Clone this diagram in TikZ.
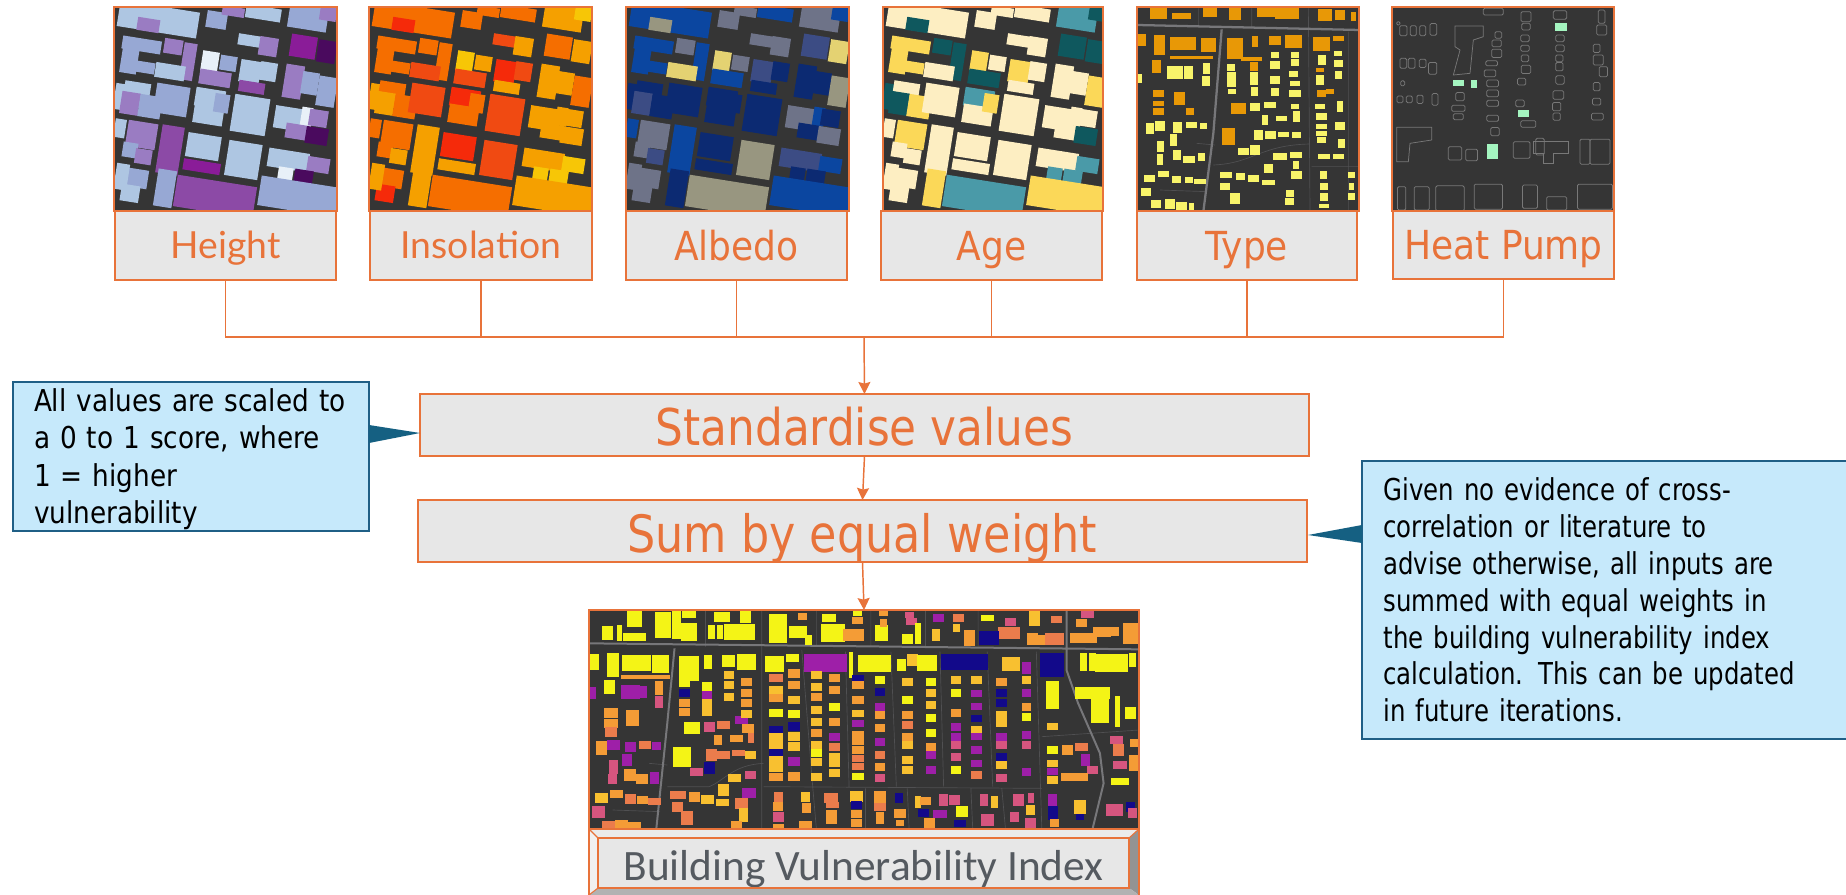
\documentclass[tikz,border=0pt]{standalone}
\usepackage{fontspec}
\setmainfont{DejaVu Sans Condensed}
\newfontfamily\tah{DejaVu Sans Condensed}
\newfontfamily\tahn[FakeStretch=0.96]{DejaVu Sans Condensed}
\newfontfamily\tahl[FakeStretch=0.97]{DejaVu Sans Condensed}
\newfontfamily\tahr[FakeStretch=0.90]{DejaVu Sans Condensed}
\newfontfamily\gro{Lato}
\newfontfamily\bli{Carlito}
\definecolor{orng}{HTML}{E8733A}
\definecolor{boxg}{HTML}{E7E7E7}
\definecolor{notef}{HTML}{C6E9FB}
\definecolor{noted}{HTML}{1F5F86}
\definecolor{ptr}{HTML}{156082}
\definecolor{dark}{HTML}{353535}
\definecolor{rdc}{HTML}{77777A}
\definecolor{thn}{HTML}{505052}
% height
\definecolor{chl}{HTML}{AEC6E2}\definecolor{chm}{HTML}{97A8D4}\definecolor{chp}{HTML}{9A7CC2}\definecolor{chd}{HTML}{8C4AA6}
\definecolor{chg}{HTML}{8A1C98}\definecolor{chD}{HTML}{4A0A5E}\definecolor{chw}{HTML}{E8F0F8}
% insolation
\definecolor{cir}{HTML}{F52A0A}\definecolor{cie}{HTML}{F04A12}\definecolor{cio}{HTML}{F56E00}\definecolor{cia}{HTML}{F5A000}\definecolor{ciy}{HTML}{F7C606}
% albedo
\definecolor{can}{HTML}{0C2A72}\definecolor{cab}{HTML}{0B46A0}\definecolor{cag}{HTML}{6E7388}\definecolor{cat}{HTML}{989680}\definecolor{cay}{HTML}{E4D272}\definecolor{cai}{HTML}{3C4C84}
% age
\definecolor{cgc}{HTML}{FDEEC2}\definecolor{cgy}{HTML}{FBD858}\definecolor{cgt}{HTML}{0F585E}\definecolor{cgb}{HTML}{4A9AA8}
% type
\definecolor{cty}{HTML}{F8F46A}\definecolor{cto}{HTML}{E89806}
% heat
\definecolor{hpg}{HTML}{A4F5C0}\definecolor{hpo}{HTML}{787878}
% index
\definecolor{vY}{HTML}{F4F416}\definecolor{vA}{HTML}{F8C030}\definecolor{vO}{HTML}{F49C36}\definecolor{vS}{HTML}{EB7C4C}\definecolor{vP}{HTML}{D6557F}\definecolor{vM}{HTML}{9E1FA8}\definecolor{vN}{HTML}{12098A}

\usetikzlibrary{arrows.meta}
\tikzset{
 x=0.75pt,y=-0.75pt,
 base/.style={inner sep=0pt,outer sep=0pt,rectangle},
 labelbox/.style={base,draw=orng,fill=boxg,line width=1.2pt,text=orng,text depth=0pt},
 grolabel/.style={labelbox,text height=18.8pt,font=\gro\fontsize{28}{28}\selectfont},
 tahlabel/.style={labelbox,text height=21.8pt,font=\tah\fontsize{30}{30}\selectfont},
 stepbox/.style={labelbox,font=\tahn\fontsize{38}{38}\selectfont},
 maptile/.style={base,fill=dark},
 notebox/.style={base,draw=noted,fill=notef,line width=1.1pt,text=black,align=left},
 wire/.style={draw=orng,line width=1pt},
 feed/.style={draw=orng,line width=1.1pt,-{Stealth[length=9pt,width=9pt,inset=1.2pt]}},
 pointer/.style={fill=ptr},
 frameline/.style={draw=orng,line width=1.3pt}
}
% box by its px corners
\newcommand\pxbox[7]{\node[#6,minimum width={(#4-#2)*0.75pt},minimum height={(#5-#3)*0.75pt}] (#1) at ({(#2+#4)/2},{(#3+#5)/2}) {#7};}
\def\bs{1}
\newcommand\rb[5]{\fill[#5] ({#1-\bs*#3/2},{#2-\bs*#4/2}) rectangle ({#1+\bs*#3/2},{#2+\bs*#4/2});}
\newcommand\ob[4]{\draw[hpo,line width=0.55pt,rounded corners=1pt] ({#1-#3/2},{#2-#4/2}) rectangle ({#1+#3/2},{#2+#4/2});}
\newcommand\colm[4]{\foreach \yy/\cc in {#4}{\rb{#1}{\yy}{#2}{#3}{v\cc}}}

\def\citylist{%
175/58/215/70/chl/cio/cab/cgc,145/75/60/35/chp/cir/cat/cgt,350/60/55/45/chm/cio/cag/cgc,400/35/60/25/chp/cio/cag/cgc,490/40/95/35/chl/cio/cab/cgc,%
625/50/105/70/chm/cia/cag/cgb,685/40/45/40/chp/ciy/cab/cgt,125/135/105/35/chm/cio/cab/cgy,90/170/45/90/chm/cio/cab/cgy,120/200/80/30/chm/cio/cab/cgy,%
220/140/50/40/chp/cio/cag/cgt,265/185/35/100/chp/cio/cab/cgt,210/215/80/40/chl/cie/cay/cgc,330/185/45/55/chw/ciy/cay/cgy,385/190/45/40/chm/cia/cag/cgc,%
345/235/85/40/chp/cie/cab/cgt,470/125/100/30/chl/cie/cag/cgc,505/140/50/50/chp/cia/cag/cgc,610/140/70/60/chg/cio/cai/cgt,680/155/50/60/chD/cia/cay/cgt,%
450/215/55/60/chl/cir/cai/cgy,505/215/45/50/chl/cie/can/cgc,455/262/70/30/chd/cia/can/cgc,580/245/50/90/chp/cia/can/cgc,630/250/45/60/chm/cia/can/cgc,680/275/50/80/chm/cio/cat/cgy,%
60/290/30/70/chl/cia/can/cgt,110/280/70/60/chl/cio/can/cgc,90/310/50/60/chp/cia/cai/cgt,150/320/60/60/chm/cio/can/cgy,215/300/90/80/chm/cie/can/cgc,%
330/295/80/50/chl/cir/can/cgb,325/345/80/50/chl/cio/can/cgc,365/310/40/50/chm/cio/can/cgy,450/345/95/100/chl/cie/can/cgc,%
565/355/75/60/chl/cia/cag/cgc,620/350/30/50/chw/cia/cab/cgc,655/355/50/45/chp/cia/can/cgc,590/395/60/40/chp/cia/can/cgc,650/408/60/45/chD/cia/cag/cgt,%
210/450/60/130/chd/cia/cab/cgc,125/405/80/70/chp/cio/cag/cgy,60/385/30/50/chl/cio/cab/cgc,90/450/40/40/chm/cio/cag/cgc,130/470/45/40/chp/cia/cai/cgc,%
310/440/90/65/chl/cir/can/cgc,305/500/100/30/chg/cia/can/cgc,430/480/90/95/chl/cie/cat/cgc,345/590/215/85/chd/cio/cat/cgb,195/565/50/100/chm/cia/can/cgy,%
110/535/60/50/chm/cio/cag/cgc,90/580/50/45/chl/cir/cag/cgc,65/530/35/70/chl/cia/cag/cgc,565/480/110/50/chl/cia/cai/cgc,655/495/60/40/chp/ciy/cab/cgb,%
555/530/40/50/chw/ciy/can/cgb,610/535/50/45/chD/ciy/can/cgb,600/590/220/80/chm/cia/cab/cgy%
}
\newcommand\citytile[1]{%
 \foreach \X/\Y/\W/\H/\Ca/\Cb/\Cc/\Cd in \citylist {%
  \ifcase#1\let\CC\Ca\or\let\CC\Cb\or\let\CC\Cc\or\let\CC\Cd\fi
  \fill[\CC,shift={(\X,\Y)},rotate=-9] ({-\W*0.56},{-\H*0.56}) rectangle ({\W*0.56},{\H*0.56});
 }}
\newcommand\tileclip[4]{\clip (#1,#2) rectangle (#3,#4);}

\begin{document}
\begin{tikzpicture}
\useasboundingbox (0,0) rectangle (1846,895);
\fill[white] (0,0) rectangle (1846,895);

% --- top maps
\pxbox{tH}{114}{7}{337}{211}{maptile}{}
\pxbox{tI}{369}{7}{592}{211}{maptile}{}
\pxbox{tA}{626}{7}{849}{211}{maptile}{}
\pxbox{tG}{883}{7}{1103}{211}{maptile}{}
\pxbox{tT}{1137}{7}{1359}{211}{maptile}{}
\pxbox{tP}{1392}{7}{1614}{211}{maptile}{}
\pxbox{tV}{589}{610}{1139}{829}{maptile}{}

\begin{scope}\tileclip{114}{7}{337}{211}\begin{scope}[shift={(100,0)},x=0.25pt,y=-0.25pt]\citytile{0}\end{scope}\end{scope}
\begin{scope}\tileclip{369}{7}{592}{211}\begin{scope}[shift={(355,0)},x=0.25pt,y=-0.25pt]\citytile{1}\end{scope}\end{scope}
\begin{scope}\tileclip{626}{7}{849}{211}\begin{scope}[shift={(612,0)},x=0.25pt,y=-0.25pt]\citytile{2}\end{scope}\end{scope}
\begin{scope}\tileclip{883}{7}{1103}{211}\begin{scope}[shift={(869,0)},x=0.25pt,y=-0.25pt]\citytile{3}\end{scope}\end{scope}

% --- Type map
\begin{scope}\tileclip{1137}{7}{1359}{211}
\begin{scope}[shift={(1120,0)},x=0.25pt,y=-0.25pt]
\def\bs{1.12}
\draw[thn,line width=0.5pt] (235,25)--(235,80) (395,25)--(395,85) (565,25)--(570,630) (685,95)--(685,630) (575,500)--(720,500) (280,495) .. controls (400,490) and (420,435) .. (570,432) (230,430)--(285,435) (120,570)--(260,575);
\draw[rdc,line width=1.7pt] (52,75)--(720,90) (305,88) -- (280,400) -- (250,635);
\foreach \X/\Y/\W/\H in {115/40/45/30,185/48/50/15,270/35/40/30,345/40/30/35,440/35/50/30,500/38/65/32,615/45/40/30,660/45/25/25,700/50/15/25,118/135/30/55,190/130/70/35,265/135/40/40,345/145/45/55,405/125/18/30,465/122/30/25,520/125/45/35,605/132/45/40,655/115/30/15,215/172/115/8,395/176/55/10,402/200/20/25,178/295/28/35,210/335/20/18,355/325/40/30,325/410/35/45,605/280/25/20,630/275/20/15,600/210/20/12,115/280/28/20,115/310/28/15,115/335/28/20,110/200/25/35,65/120/25/30}{\rb{\X}{\Y}{\W}{\H}{cto}}
\foreach \X/\Y/\W/\H in {165/218/45/35,205/218/25/35,260/205/18/30,258/243/20/28,333/203/22/20,335/228/25/22,335/250/25/18,335/275/22/15,403/235/22/35,403/275/20/25,465/165/20/18,465/195/25/22,525/165/22/18,525/188/20/18,520/222/25/15,525/250/25/15,465/240/25/22,465/275/22/22,525/280/30/18,405/320/25/22,450/315/30/15,525/320/20/15,530/350/20/30,485/355/30/15,435/360/18/25,90/385/22/30,120/378/25/25,172/383/25/28,215/375/30/15,250/378/18/18,160/420/20/30,122/440/18/30,170/465/22/25,120/478/18/30,207/478/30/18,245/470/18/22,415/405/25/25,452/405/30/22,490/403/30/12,530/405/25/15,370/455/30/20,405/450/25/25,480/470/35/18,445/505/25/25,528/465/30/15,528/495/18/20,530/525/30/20,318/525/30/18,362/530/25/20,400/535/30/18,445/548/35/15,315/560/25/20,345/595/25/30,510/580/22/18,508/605/25/18,130/522/30/15,170/538/25/20,208/540/22/15,240/545/30/12,88/535/30/18,78/575/25/22,108/612/28/22,150/612/25/25,185/618/30/20,215/620/15/18,605/180/22/25,655/160/22/15,655/190/25/20,600/240/20/25,655/225/20/20,600/320/25/15,660/320/18/30,605/350/30/18,605/380/28/15,660/378/25/22,605/400/28/15,605/420/25/18,665/430/18/25,612/470/30/15,655/470/30/15,610/525/18/20,612/560/20/18,612/590/22/22,695/525/18/15,695/560/15/18,695/590/18/18,612/618/25/12,60/235/12/25}{\rb{\X}{\Y}{\W}{\H}{cty}}
\end{scope}\end{scope}

% --- Heat pump map
\begin{scope}\tileclip{1392}{7}{1614}{211}
\begin{scope}[shift={(1120,0)},x=0.25pt,y=-0.25pt]
\foreach \X/\Y/\W/\H in {850/92/22/30,880/92/18/30,908/92/18/30,940/88/20/35,835/70/10/10,1120/35/60/20,1218/50/30/30,1320/45/40/25,1445/50/20/40,1445/90/30/30,1430/145/20/25,1435/180/30/30,1450/215/25/30,1430/260/20/25,1430/305/25/20,1432/350/35/20,1135/105/20/20,1130/130/28/20,1130/160/30/25,1115/190/35/15,1110/220/35/20,1118/250/35/20,1118/280/35/20,1118/310/35/18,1118/355/35/18,1125/395/25/25,1218/80/25/20,1215/115/25/20,1215/145/25/18,1215/175/22/20,1218/208/28/25,1205/245/25/20,1320/115/25/20,1320/145/25/20,1318/175/22/20,1318/200/22/25,1320/240/25/25,1315/285/32/25,1200/310/25/20,1310/320/25/25,1310/350/22/22,1225/372/45/20,850/190/20/30,875/190/20/30,908/190/20/25,938/205/25/35,848/250/12/15,840/298/18/20,868/298/18/20,900/298/18/25,945/298/18/35,1020/290/25/25,1015/325/40/18,1015/350/30/18,1005/460/40/40,1055/465/35/35,1205/450/50/50,1260/440/25/50,1395/455/30/75,1440/455/60/75,845/595/25/70,905/595/45/70,990/595/85/75,1105/590/85/75,1230/590/45/70,1310/610/60/40,1425/590/105/75}{\ob{\X}{\Y}{\W}{\H}}
\draw[hpo,line width=0.55pt] (1005,78)--(1090,78)--(1090,110)--(1060,120)--(1050,220)--(1000,225)--(1020,150)--(1005,140)--cycle;
\draw[hpo,line width=0.55pt] (830,382)--(935,382)--(935,420)--(870,430)--(865,485)--(830,485)--cycle;
\draw[hpo,line width=0.55pt] (1240,425)--(1345,425)--(1345,460)--(1300,460)--(1300,490)--(1270,490)--(1270,460)--(1240,460)--cycle;
\foreach \X/\Y/\W/\H in {1323/82/35/25,1015/250/35/18,1062/252/16/22,1210/340/32/22,1118/455/33/45}{\rb{\X}{\Y}{\W}{\H}{hpg}}
\end{scope}\end{scope}

% --- Index map
\begin{scope}\tileclip{589}{610}{1139}{829}
\begin{scope}[shift={(580,590)},x=0.2727pt,y=-0.25pt]
\def\bs{1.22}
\draw[thn,line width=0.5pt] (345,60)--(345,170) (500,60)--(500,715) (650,60)--(650,170) (800,60)--(800,170) (950,60)--(950,170) (1095,60)--(1095,170) (610,180)--(640,590)--(650,715) (730,185)--(740,590) (855,185)--(870,590) (990,185)--(1000,590) (1120,185)--(1135,590) (1255,185)--(1270,715) (505,590)--(1270,595) (1270,440)--(1538,420) (785,595)--(785,715) (900,595)--(905,715) (1075,595)--(1080,715) (1160,595)--(1170,715) (240,590)--(355,590) .. controls (400,570) and (420,525) .. (505,520) (90,660)--(220,665) (190,520)--(240,525);
\draw[rdc,line width=1.5pt] (25,160)--(1538,178) (260,175)--(240,400)--(210,715) (1338,60)--(1338,240)--(1370,340)--(1430,490)--(1440,580)--(1410,715);
\foreach \X/\Y/\W/\H/\Cl in {150/85/35/45/Y,75/128/25/35/Y,108/128/12/40/Y,150/140/50/20/Y,228/105/35/65/Y,265/105/20/70/Y,300/125/35/45/Y,300/72/30/18/Y,390/80/35/25/Y,362/125/15/35/Y,385/125/15/35/Y,438/125/70/40/Y,455/80/25/30/Y,545/115/40/70/Y,612/80/20/18/O,600/125/40/30/Y,628/150/15/25/Y,685/85/30/20/Y,695/130/55/45/Y,742/135/30/30/O,770/135/20/30/O,762/92/25/18/O,762/70/20/15/Y,835/70/20/12/O,830/130/30/40/Y,835/100/15/20/O,905/75/20/15/P,912/95/25/18/P,900/148/25/25/Y,930/130/15/50/Y,985/85/25/20/M,980/135/18/30/A,1040/85/25/20/S,1070/145/25/40/O,1035/115/15/20/A,1120/85/30/15/Y,1185/95/25/20/P,1180/130/50/30/S,1125/145/45/35/N,1250/85/25/40/A,1245/148/25/30/O,1272/150/20/25/O,1305/148/45/30/S,1310/88/25/18/S,1380/100/25/20/O,1385/145/60/25/O,1435/125/40/25/O,1470/125/20/22/O,1515/130/35/50/O,1395/72/30/18/P,%
40/215/20/40/Y,90/225/28/60/Y,155/218/65/40/Y,222/222/38/45/Y,180/262/110/10/O,300/235/45/60/Y,352/215/20/35/Y,408/212/30/30/Y,458/215/42/40/Y,535/222/42/40/Y,585/205/30/20/Y,675/218/95/45/M,745/225/10/65/Y,810/220/75/42/Y,885/225/20/30/Y,915/210/25/30/A,955/218/45/40/Y,1058/215/105/40/N,1185/222/40/35/A,1228/235/22/30/M,1298/225/55/60/N,1385/215/15/45/Y,1410/215/15/45/Y,1462/218/75/45/Y,1520/210/15/35/Y,%
1410/310/80/30/Y,1430/350/40/80/Y,1478/365/10/75/Y,1515/370/25/30/Y,1300/315/30/70/Y,1340/480/25/25/O,1380/470/30/20/S,1390/510/20/30/M,1410/540/25/20/P,1360/560/60/20/O,1485/575/40/18/Y,1475/450/30/20/P,1480/480/25/30/S,1485/525/30/20/P,1525/460/20/20/O,1525/520/25/40/O,%
85/370/30/25/O,85/400/30/22/O,85/425/28/25/S,145/385/30/40/O,35/310/15/30/M,80/290/25/35/Y,125/305/22/35/M,150/305/25/35/M,175/305/15/30/M,218/295/18/35/O,218/335/18/30/P,60/475/25/35/O,92/465/28/25/M,138/472/25/25/M,178/465/28/18/S,210/468/20/20/M,92/530/22/35/P,130/510/22/30/M,138/555/28/28/O,90/568/20/25/P,170/568/28/25/O,205/565/22/30/M,60/625/30/25/A,100/612/30/20/O,138/628/25/25/S,172/630/25/22/O,205/635/30/18/S,50/665/30/30/P,80/705/30/20/S,115/705/30/25/O,150/708/30/20/O,%
308/415/35/30/Y,355/410/25/25/P,395/405/30/18/S,430/445/30/18/O,470/440/15/30/S,380/450/18/25/O,445/390/30/20/M,462/415/25/22/O,280/500/40/50/Y,362/495/25/30/S,395/495/30/22/S,435/490/30/15/S,468/495/25/18/A,355/535/25/30/N,320/545/28/20/P,425/565/30/20/A,395/600/25/30/A,468/555/25/20/P,465/610/30/25/M,270/615/35/20/S,315/620/25/25/O,350/628/30/22/A,392/638/30/18/A,445/640/30/28/S,268/650/25/25/S,295/685/28/35/S,450/675/20/35/A,430/705/25/20/O,%
545/620/20/25/S,545/650/22/22/O,545/680/25/25/P,545/710/25/15/O,620/620/20/25/A,622/655/20/25/O,620/705/30/20/O,690/625/30/25/S,692/680/25/35/O,695/645/30/15/S,760/620/28/28/A,760/645/25/20/N,760/672/25/20/O,760/700/25/20/O,825/625/25/35/O,825/650/25/20/S,825/685/20/30/O,878/625/18/25/N,880/670/25/22/O,880/700/20/15/O,930/635/15/30/A,950/632/25/20/O,1000/630/20/30/P,1030/630/25/25/P,945/670/25/20/N,990/672/30/18/M,1050/665/28/28/Y,1045/700/28/18/N,960/700/25/25/O,1112/630/18/28/P,1140/635/15/30/A,1120/690/30/30/P,1205/630/25/30/P,1240/625/15/25/P,1240/660/20/25/A,1195/680/20/25/P,1240/700/25/25/P,1300/630/20/30/M,1300/670/22/35/N,1375/650/25/35/A,1375/680/18/15/N,1305/700/20/20/O,1470/660/40/30/P,1515/650/20/25/N,1520/670/20/25/P}{\rb{\X}{\Y}{\W}{\H}{v\Cl}}
\colm{288}{26}{20}{280/Y,310/N,340/O,365/O}
\colm{350}{22}{22}{290/Y,315/M,340/A,365/A}
\colm{410}{24}{20}{255/A,285/A,320/A}
\colm{458}{26}{20}{275/O,310/O,340/O,372/A}
\colm{540}{32}{20}{265/S,300/A,325/O,370/Y,420/N,440/A,465/A,490/N,510/A,535/A,560/O}
\colm{588}{26}{22}{250/O,285/O,330/A,372/Y,410/N,440/A,470/A,515/M,560/O}
\colm{650}{24}{20}{255/A,290/A,320/O,360/A,395/A,430/O,465/A,490/Y,515/A,560/A}
\colm{700}{24}{20}{265/O,300/O,350/Y,395/O,440/M,470/S,500/A,520/A,550/A}
\colm{765}{26}{18}{265/N,285/O,330/O,370/A,400/M,435/O,455/O,480/O,505/S,530/S,560/Y}
\colm{825}{24}{20}{270/Y,305/N,350/M,375/O,415/O,455/M,495/S,530/O,565/P}
\colm{900}{24}{20}{275/A,330/Y,375/O,405/S,440/O,465/A,510/A,540/A}
\colm{965}{24}{20}{275/Y,310/A,345/A,385/Y,430/Y,470/O,495/M,540/M}
\colm{1035}{22}{20}{270/A,310/Y,370/O,410/M,440/M,465/P,500/P,540/Y}
\colm{1090}{24}{18}{270/A,310/M,350/M,385/N,420/A,440/M,480/M,520/M,555/S}
\colm{1160}{24}{20}{275/O,310/N,340/N,375/A,400/A,440/M,465/P,500/N,525/A,565/P}
\colm{1228}{22}{20}{270/A,310/M,350/O,380/Y,435/M,465/P,545/M}
\colm{1300}{26}{18}{410/A,480/Y,520/A,545/M,570/A}
\end{scope}\end{scope}

% --- map frames
\foreach \n in {tH,tI,tA,tG,tT,tP,tV}{\draw[frameline] (\n.south west) rectangle (\n.north east);}

% --- labels
\pxbox{lH}{115}{211}{336}{280}{grolabel}{Height}
\pxbox{lI}{370}{211}{592}{280}{grolabel}{Insolation}
\pxbox{lA}{626}{211}{847}{280}{tahlabel}{Albedo}
\pxbox{lG}{881}{211}{1102}{280}{tahlabel}{Age}
\pxbox{lT}{1137}{211}{1357}{280}{tahlabel}{Type}
\pxbox{lP}{1393}{211}{1614}{279}{tahlabel}{Heat Pump}

\pxbox{std}{420}{394}{1309}{456}{stepbox,text height=30pt}{Standardise values}
\pxbox{sum}{418}{500}{1307}{562}{stepbox,text height=31.5pt,font=\tahn\fontsize{38.6}{38.6}\selectfont}{Sum by equal weight}

% --- index label with bevel
\coordinate (vo1) at (589,829); \coordinate (vo2) at (1139,829); \coordinate (vo3) at (1139,895); \coordinate (vo4) at (589,895);
\pxbox{lV}{598}{838}{1129}{888}{base,draw=orng,fill=boxg,line width=1.2pt,text={rgb,255:red,85;green,90;blue,96},text depth=0pt,text height=25.5pt,font=\bli\fontsize{32.5}{32.5}\selectfont}{Building Vulnerability Index}
\fill[boxg!85!white] (vo1)--(vo2)--(lV.north east)--(lV.north west)--cycle;
\fill[boxg!60!white] (vo1)--(vo4)--(lV.south west)--(lV.north west)--cycle;
\fill[gray!85] (vo2)--(vo3)--(lV.south east)--(lV.north east)--cycle;
\fill[gray!60] (vo3)--(vo4)--(lV.south west)--(lV.south east)--cycle;
\draw[orng,line width=0.8pt] (vo1)--(lV.north west) (vo2)--(lV.north east) (vo4)--(lV.south west);
\draw[orng,line width=1.2pt] (lV.south west) rectangle (lV.north east);
\draw[frameline] (vo4)--(vo1)--(vo2)--(vo3);

% --- connectors
\coordinate (bus) at (864,337);
\foreach \n in {lH,lI,lA,lG,lT,lP}{\draw[wire] (\n.south) |- (bus);}
\draw[feed] (bus) -- (std.north);
\draw[feed] (std.south) -- (sum.north);
\draw[feed] (sum.south) -- (tV.north);

% --- notes
\pxbox{nL}{13}{382}{369}{531}{notebox,text width=314*0.75pt,font=\tahl\fontsize{22.6}{28}\selectfont}{\mbox{\rule{0pt}{21pt}All values are scaled to}\\\mbox{a 0 to 1 score, where}\\\mbox{1 = higher}\\\mbox{vulnerability}}
\pxbox{nR}{1362}{461}{1850}{739}{notebox,text width=445*0.75pt,font=\tahr\fontsize{22.6}{27.6}\selectfont}{\mbox{Given no evidence of cross-}\\\mbox{correlation or literature to}\\\mbox{advise otherwise, all inputs are}\\\mbox{summed with equal weights in}\\\mbox{the building vulnerability index}\\\mbox{calculation. This can be updated}\\\mbox{in future iterations.}}
\coordinate (tipL) at (420,433); \coordinate (bL1) at (369,425); \coordinate (bL2) at (369,443);
\coordinate (tipR) at (1308,535); \coordinate (bR1) at (1362,525); \coordinate (bR2) at (1362,543);
\fill[pointer] (bL1)--(tipL)--(bL2)--cycle;
\fill[pointer] (bR1)--(tipR)--(bR2)--cycle;
\end{tikzpicture}
\end{document}
